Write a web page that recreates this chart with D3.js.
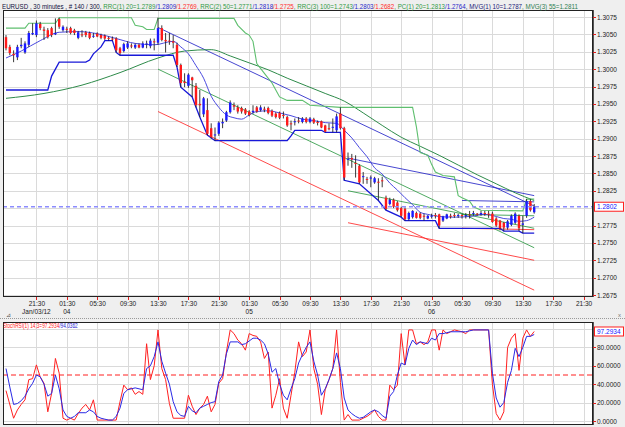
<!DOCTYPE html>
<html>
<head>
<meta charset="utf-8">
<title>EURUSD 30 minutes</title>
<style>
  body { margin: 0; background: #efefef; }
  svg { display: block; font-family: "Liberation Sans", Arial, sans-serif; }
  .axis path { display: none; }
  .axis line { stroke: #e02020; shape-rendering: crispEdges; }
  .axis text { font-size: 6.5px; fill: #222; }
  .grid { stroke: #dadada; shape-rendering: crispEdges; }
</style>
<script src="https://d3js.org/d3.v7.min.js"></script>
</head>
<body>
<script>
// ---- candles (bar 0 = Jan 03 17:30, 30 minute bars) ----
var opens = [1.3046,1.3032,1.3022,1.3017,1.3033,1.3024,1.3035,1.3050,1.3049,1.3065,
  1.3057,1.3056,1.3059,1.3050,1.3072,1.3056,1.3058,1.3059,1.3056,1.3045,
  1.3050,1.3053,1.3052,1.3047,1.3051,1.3049,1.3048,1.3045,1.3044,1.3044,
  1.3030,1.3026,1.3031,1.3034,1.3031,1.3035,1.3031,1.3036,1.3033,1.3040,
  1.3038,1.3059,1.3042,1.3041,1.3040,1.3035,1.3006,1.2982,1.2976,1.2988,
  1.2976,1.2950,1.2935,1.2941,1.2915,1.2905,1.2907,1.2922,1.2926,1.2938,
  1.2948,1.2945,1.2944,1.2942,1.2939,1.2938,1.2945,1.2941,1.2943,1.2944,
  1.2940,1.2936,1.2937,1.2934,1.2931,1.2922,1.2924,1.2926,1.2924,1.2929,
  1.2924,1.2928,1.2924,1.2925,1.2919,1.2915,1.2916,1.2912,1.2936,1.2915,
  1.2870,1.2872,1.2865,1.2861,1.2845,1.2842,1.2843,1.2837,1.2838,1.2840,
  1.2815,1.2806,1.2812,1.2808,1.2800,1.2799,1.2784,1.2787,1.2793,1.2792,
  1.2789,1.2785,1.2788,1.2790,1.2791,1.2782,1.2785,1.2789,1.2790,1.2789,
  1.2790,1.2789,1.2791,1.2792,1.2792,1.2791,1.2793,1.2792,1.2792,1.2785,
  1.2782,1.2779,1.2772,1.2776,1.2779,1.2789,1.2776,1.2789,1.2810,1.2794];
var highs = [1.3049,1.3035,1.3027,1.3035,1.3045,1.3040,1.3055,1.3066,1.3070,1.3068,
  1.3061,1.3059,1.3061,1.3073,1.3074,1.3063,1.3061,1.3061,1.3058,1.3055,
  1.3056,1.3055,1.3054,1.3052,1.3053,1.3051,1.3050,1.3047,1.3047,1.3046,
  1.3032,1.3038,1.3040,1.3037,1.3037,1.3037,1.3040,1.3041,1.3044,1.3044,
  1.3074,1.3063,1.3052,1.3052,1.3049,1.3038,1.3008,1.2994,1.2994,1.2989,
  1.2980,1.2970,1.2960,1.2958,1.2922,1.2916,1.2925,1.2929,1.2940,1.2955,
  1.2952,1.2948,1.2946,1.2944,1.2941,1.2948,1.2947,1.2948,1.2946,1.2946,
  1.2942,1.2938,1.2939,1.2939,1.2933,1.2926,1.2929,1.2931,1.2931,1.2931,
  1.2931,1.2930,1.2926,1.2926,1.2920,1.2922,1.2929,1.2936,1.2945,1.2917,
  1.2880,1.2878,1.2876,1.2863,1.2852,1.2845,1.2847,1.2845,1.2843,1.2845,
  1.2818,1.2815,1.2814,1.2810,1.2802,1.2801,1.2795,1.2797,1.2795,1.2794,
  1.2792,1.2790,1.2792,1.2793,1.2792,1.2789,1.2792,1.2792,1.2793,1.2792,
  1.2792,1.2793,1.2796,1.2796,1.2793,1.2796,1.2796,1.2796,1.2795,1.2787,
  1.2783,1.2780,1.2783,1.2791,1.2794,1.2791,1.2789,1.2813,1.2813,1.2806];
var lows = [1.3027,1.3020,1.3010,1.3013,1.3030,1.3022,1.3032,1.3049,1.3046,1.3056,
  1.3042,1.3044,1.3046,1.3049,1.3058,1.3054,1.3052,1.3050,1.3049,1.3043,
  1.3046,1.3046,1.3043,1.3045,1.3046,1.3043,1.3042,1.3041,1.3041,1.3024,
  1.3020,1.3024,1.3029,1.3030,1.3029,1.3030,1.3030,1.3030,1.3030,1.3027,
  1.3035,1.3040,1.3024,1.3035,1.3030,1.3003,1.2974,1.2974,1.2973,1.2960,
  1.2945,1.2931,1.2931,1.2905,1.2900,1.2897,1.2904,1.2915,1.2924,1.2936,
  1.2941,1.2936,1.2936,1.2934,1.2932,1.2936,1.2937,1.2939,1.2938,1.2935,
  1.2931,1.2929,1.2928,1.2929,1.2917,1.2912,1.2919,1.2922,1.2922,1.2922,
  1.2922,1.2921,1.2919,1.2915,1.2909,1.2912,1.2909,1.2909,1.2913,1.2840,
  1.2861,1.2858,1.2844,1.2835,1.2835,1.2835,1.2830,1.2835,1.2811,1.2830,
  1.2797,1.2804,1.2800,1.2795,1.2787,1.2782,1.2782,1.2785,1.2785,1.2784,
  1.2782,1.2784,1.2785,1.2785,1.2771,1.2780,1.2784,1.2785,1.2786,1.2786,
  1.2785,1.2785,1.2785,1.2789,1.2789,1.2789,1.2789,1.2786,1.2779,1.2773,
  1.2768,1.2767,1.2769,1.2774,1.2777,1.2767,1.2764,1.2786,1.2795,1.2792];
var closes = [1.3030,1.3023,1.3020,1.3032,1.3035,1.3037,1.3052,1.3052,1.3066,1.3059,
  1.3055,1.3046,1.3049,1.3052,1.3061,1.3061,1.3057,1.3052,1.3052,1.3053,
  1.3049,1.3049,1.3045,1.3048,1.3047,1.3045,1.3044,1.3044,1.3043,1.3027,
  1.3023,1.3036,1.3037,1.3033,1.3035,1.3031,1.3037,1.3037,1.3041,1.3039,
  1.3059,1.3042,1.3040,1.3040,1.3038,1.3006,1.2980,1.2980,1.2992,1.2984,
  1.2948,1.2948,1.2958,1.2907,1.2902,1.2906,1.2923,1.2924,1.2938,1.2952,
  1.2946,1.2939,1.2939,1.2936,1.2934,1.2940,1.2939,1.2945,1.2942,1.2937,
  1.2933,1.2931,1.2930,1.2933,1.2919,1.2921,1.2925,1.2925,1.2929,1.2924,
  1.2929,1.2923,1.2923,1.2916,1.2910,1.2914,1.2917,1.2932,1.2915,1.2844,
  1.2871,1.2870,1.2864,1.2837,1.2846,1.2841,1.2844,1.2843,1.2837,1.2839,
  1.2799,1.2812,1.2802,1.2797,1.2789,1.2784,1.2793,1.2796,1.2786,1.2786,
  1.2788,1.2789,1.2789,1.2789,1.2775,1.2788,1.2791,1.2788,1.2789,1.2790,
  1.2789,1.2790,1.2790,1.2793,1.2791,1.2793,1.2792,1.2791,1.2780,1.2775,
  1.2771,1.2772,1.2781,1.2789,1.2792,1.2771,1.2778,1.2810,1.2797,1.2802];

// ---- overlays, [bar, price] ----
var pcUpper = [[0,1.3059],[5,1.3059],[6,1.3066],[13,1.3066],[14,1.3074],[33,1.3074],[34,1.3063],
  [36,1.3061],[37,1.3057],[39,1.3057],[40,1.3073],[60,1.3073],[61,1.3063],[63,1.3052],[64,1.3049],
  [65,1.3040],[66,1.3008],[68,1.2994],[70,1.2980],[71,1.2970],[72,1.2960],[74,1.2955],[78,1.2955],
  [80,1.2948],[88,1.2945],[107,1.2945],[108,1.2917],[109,1.2880],[111,1.2876],[112,1.2863],
  [113,1.2852],[115,1.2847],[118,1.2845],[119,1.2818],[120,1.2815],[122,1.2810],[123,1.2802],
  [125,1.2797],[136,1.2796],[137,1.2813],[139,1.2813]];
var pcLower = [[0,1.2970],[11,1.2970],[12,1.2990],[14,1.3010],[21,1.3010],[22,1.3013],[23,1.3022],
  [25,1.3032],[26,1.3041],[28,1.3041],[29,1.3024],[30,1.3020],[44,1.3020],[45,1.3003],[46,1.2974],
  [49,1.2960],[50,1.2945],[51,1.2931],[53,1.2905],[55,1.2897],[74,1.2897],[75,1.2904],[76,1.2912],
  [83,1.2912],[84,1.2909],[88,1.2909],[89,1.2840],[93,1.2835],[98,1.2811],[100,1.2797],[104,1.2787],
  [105,1.2782],[113,1.2782],[114,1.2771],[130,1.2771],[131,1.2767],[135,1.2767],[136,1.2764],[139,1.2764]];
var ma10 = [[0,1.3016],[4,1.3026],[9,1.3041],[14,1.3053],[19,1.3054],[24,1.3051],[29,1.3044],
  [34,1.3037],[39,1.3035],[44,1.3040],[46,1.3032],[48,1.3022],[50,1.3005],[52,1.2987],[54,1.2961],
  [56,1.2945],[58,1.2934],[60,1.2930],[62,1.2928],[64,1.2934],[66,1.2939],[69,1.2940],[72,1.2937],
  [75,1.2933],[78,1.2928],[81,1.2926],[84,1.2923],[87,1.2922],[89,1.2912],[91,1.2901],[93,1.2887],
  [95,1.2874],[97,1.2858],[99,1.2849],[101,1.2836],[103,1.2826],[105,1.2815],[107,1.2805],
  [109,1.2794],[111,1.2791],[114,1.2788],[118,1.2787],[122,1.2788],[126,1.2791],[129,1.2788],
  [131,1.2785],[133,1.2784],[135,1.2781],[137,1.2782],[139,1.2787]];
var ma55 = [[0,1.2958],[10,1.2965],[20,1.2977],[30,1.2995],[40,1.3016],[47,1.3026],[54,1.3028],
  [59,1.3019],[64,1.3009],[69,1.2999],[74,1.2987],[79,1.2976],[84,1.2965],[89,1.2954],[94,1.2937],
  [99,1.2919],[104,1.2902],[109,1.2889],[114,1.2876],[119,1.2862],[124,1.2848],[129,1.2835],
  [134,1.2822],[139,1.2811]];

// regression channels RRC(1) 20, RRC(2) 50, RRC(3) 100
var rrcFrom = [120, 90, 40];
var rrcTo = [139, 139, 139];
var rrcMidStart = [1.2791, 1.2825, 1.3000];
var rrcMidEnd = [1.2789, 1.2771, 1.2743];
var rrcUpStart = [1.2811, 1.2872, 1.3060];
var rrcUpEnd = [1.2809, 1.2818, 1.2803];
var rrcLoStart = [1.2771, 1.2779, 1.2939];
var rrcLoEnd = [1.2769, 1.2725, 1.2682];

var lastPrice = 1.2802;

// ---- StochRSI(1) 14;3, [bar, value] ----
var stochK = [[0,33],[2,3],[3,12],[4,18],[5,23],[6,45],[7,46],[8,61],[9,48],[10,41],[11,10],[12,30],
  [13,68],[14,52],[15,3],[16,1],[17,3],[18,1],[19,8],[20,14],[21,18],[22,12],[23,23],[24,1],[29,1],
  [30,21],[31,39],[32,34],[33,36],[34,29],[35,32],[36,29],[37,84],[38,45],[39,60],[40,99],[41,57],
  [42,45],[43,19],[44,3],[47,3],[48,28],[49,16],[50,7],[51,14],[52,18],[53,27],[54,10],[55,18],
  [56,41],[57,46],[58,75],[59,99],[60,95],[61,88],[62,84],[63,77],[64,95],[65,93],[66,92],[67,86],
  [68,68],[69,75],[70,14],[71,28],[72,46],[73,14],[74,3],[75,28],[76,53],[77,86],[78,70],[79,75],
  [80,99],[81,57],[82,40],[83,7],[84,34],[85,45],[86,57],[87,99],[88,42],[89,1],[90,7],[91,1],
  [93,1],[94,3],[95,5],[96,8],[97,12],[98,5],[99,1],[100,1],[101,39],[102,34],[103,39],[104,95],
  [105,61],[106,99],[107,99],[108,84],[109,86],[110,83],[111,86],[112,99],[113,99],[114,77],
  [115,99],[116,95],[117,97],[118,99],[119,98],[120,97],[121,95],[122,99],[127,99],[128,40],
  [129,8],[130,1],[131,10],[132,80],[133,90],[134,95],[135,55],[136,90],[137,99],[138,92],[139,97.29]];
var stochD = [[0,57],[1,37],[2,18],[3,19],[4,22],[5,27],[6,35],[7,41],[8,50],[9,48],[10,40],[11,27],
  [12,30],[13,50],[14,35],[15,12],[16,5],[17,3],[18,5],[19,9],[21,9],[22,12],[23,10],[24,5],[25,3],
  [26,2],[27,1],[28,1],[29,5],[30,14],[31,30],[32,34],[33,35],[34,36],[35,35],[36,34],[37,57],
  [38,60],[39,70],[40,86],[41,65],[42,52],[43,40],[44,21],[45,10],[46,6],[47,5],[48,16],[49,11],
  [50,9],[51,14],[52,16],[53,18],[54,20],[55,21],[56,43],[57,50],[58,73],[59,86],[61,86],[62,83],
  [63,84],[64,87],[65,90],[66,90],[67,88],[68,84],[69,73],[70,53],[71,57],[72,40],[73,28],[74,23],
  [75,35],[76,46],[77,63],[78,72],[79,80],[80,86],[81,65],[82,50],[83,28],[84,35],[85,45],[86,57],
  [87,74],[88,57],[89,25],[90,12],[91,8],[92,5],[93,3],[94,4],[95,7],[96,10],[97,12],[98,10],
  [99,6],[100,3],[101,27],[102,32],[103,50],[104,63],[105,61],[106,79],[107,88],[108,83],[109,86],
  [110,85],[111,84],[112,90],[113,88],[114,95],[115,95],[116,96],[117,97],[121,97],[122,98],
  [123,99],[127,99],[128,52],[129,25],[130,15],[131,20],[132,42],[133,55],[134,79],[135,70],
  [136,80],[137,92],[138,92],[139,94.04]];
var stochLast = [97.2934, 94.0362];

// ---- axis labels ----
var tickBars = [8,16,24,32,40,48,56,64,72,80,88,96,104,112,120,128,136,144,152];
var tickTimes = ['21:30','01:30','05:30','09:30','13:30','17:30','21:30','01:30','05:30','09:30',
  '13:30','17:30','21:30','01:30','05:30','09:30','13:30','17:30','21:30'];
var tickDates = ['Jan/03/12','04','','','','','','05','','','','','','06','','','','',''];
var priceTicks = [1.3075,1.3050,1.3025,1.3000,1.2975,1.2950,1.2925,1.2900,1.2875,1.2850,
  1.2825,1.2800,1.2775,1.2750,1.2725,1.2700,1.2675];
var stochTicks = [0,20,40,60,80];
var stochGrid = [0,20,40,60,80,100];

var GREEN = '#2f9a45', BLUE = '#2626c8', RED = '#ff2a2a', NAVY = '#101040';
var header = [
  ['EURUSD , 30 minutes , # 140 / 300, ', NAVY],
  ['RRC(1) 20=1.2789', GREEN], ['/1.2809', BLUE], ['/1.2769', RED],
  [', RRC(2) 50=1.2771', GREEN], ['/1.2818', BLUE], ['/1.2725', RED],
  [', RRC(3) 100=1.2743', GREEN], ['/1.2803', BLUE], ['/1.2682', RED],
  [', PC(1) 20=1.2813', GREEN], ['/1.2764', BLUE],
  [', MVG(1) 10=1.2787', '#23237a'], [', MVG(3) 55=1.2811', '#2e7d4f']
];
var fmt4 = d3.format('.4f');
var stochHeader = [
  ['StochRSI(1) 14;3=' + fmt4(stochLast[0]), '#ff2020'],
  ['/' + fmt4(stochLast[1]), '#2020d0']
];

// ---- layout ----
var width = 625, height = 427;
var pm = {left: 3, right: 593, top: 10, bottom: 297};
var pl = {left: 3, right: 593, top: 322, bottom: 425};

var svg = d3.select('body').append('svg').attr('width', width).attr('height', height);
svg.append('rect').attr('width', width).attr('height', height).attr('fill', '#efefef');

var x = d3.scaleLinear().domain([0, 139]).range([6, 534.2]);
var y = d3.scaleLinear().domain([1.2675, 1.3075]).range([295, 17]);
var y2 = d3.scaleLinear().domain([0, 100]).range([421, 329]);

var defs = svg.append('defs');
defs.append('clipPath').attr('id', 'clipMain').append('rect')
  .attr('x', pm.left).attr('y', pm.top).attr('width', pm.right - pm.left).attr('height', pm.bottom - pm.top);
defs.append('clipPath').attr('id', 'clipLow').append('rect')
  .attr('x', pl.left).attr('y', pl.top).attr('width', pl.right - pl.left).attr('height', pl.bottom - pl.top);

// colored text squeezed to a given width (the reference font is very narrow)
function fitText(px, py, size, segs, targetW) {
  var g = svg.append('g');
  var t = g.append('text').attr('font-size', size);
  segs.forEach(function(s) { t.append('tspan').attr('fill', s[1]).text(s[0]); });
  var w = t.node().getBBox().width;
  g.attr('transform', 'translate(' + px + ',' + py + ') scale(' + (targetW / w) + ',1)');
}

// panel backgrounds
[pm, pl].forEach(function(p) {
  svg.append('rect').attr('x', p.left).attr('y', p.top)
    .attr('width', p.right - p.left).attr('height', p.bottom - p.top).attr('fill', '#fff');
});

// grids
var gGrid = svg.append('g');
function px(v) { return Math.round(v) + 0.5; }
gGrid.selectAll('.vg').data(tickBars).enter().append('line').attr('class', 'grid')
  .attr('x1', function(d) { return px(x(d)); }).attr('x2', function(d) { return px(x(d)); })
  .attr('y1', pm.top).attr('y2', pm.bottom);
gGrid.selectAll('.vg2').data(tickBars).enter().append('line').attr('class', 'grid')
  .attr('x1', function(d) { return px(x(d)); }).attr('x2', function(d) { return px(x(d)); })
  .attr('y1', pl.top).attr('y2', pl.bottom);
gGrid.selectAll('.hg').data(priceTicks).enter().append('line').attr('class', 'grid')
  .attr('x1', pm.left).attr('x2', pm.right)
  .attr('y1', function(d) { return px(y(d)); }).attr('y2', function(d) { return px(y(d)); });
gGrid.selectAll('.hg2').data(stochGrid).enter().append('line').attr('class', 'grid')
  .attr('x1', pl.left).attr('x2', pl.right)
  .attr('y1', function(d) { return px(y2(d)); }).attr('y2', function(d) { return px(y2(d)); });

// ---- main panel ----
var gMain = svg.append('g').attr('clip-path', 'url(#clipMain)');
var line = d3.line().x(function(d) { return x(d[0]); }).y(function(d) { return y(d[1]); });
var smooth = d3.line().curve(d3.curveMonotoneX).x(function(d) { return x(d[0]); }).y(function(d) { return y(d[1]); });

// regression channels
rrcFrom.forEach(function(f, k) {
  var t = rrcTo[k];
  [[rrcMidStart[k], rrcMidEnd[k], GREEN], [rrcUpStart[k], rrcUpEnd[k], BLUE], [rrcLoStart[k], rrcLoEnd[k], RED]]
    .forEach(function(c) {
      gMain.append('path').datum([[f, c[0]], [t, c[1]]]).attr('d', line)
        .attr('fill', 'none').attr('stroke', c[2]).attr('stroke-width', 1).attr('stroke-opacity', 0.85);
    });
});

gMain.append('path').datum(ma55).attr('d', smooth)
  .attr('fill', 'none').attr('stroke', '#2e8b4a').attr('stroke-width', 1);
gMain.append('path').datum(ma10).attr('d', smooth)
  .attr('fill', 'none').attr('stroke', '#4a4ae0').attr('stroke-width', 1);
gMain.append('path').datum(pcUpper).attr('d', line)
  .attr('fill', 'none').attr('stroke', '#5fbf6f').attr('stroke-width', 1.1);
gMain.append('path').datum(pcLower).attr('d', line)
  .attr('fill', 'none').attr('stroke', '#1818d8').attr('stroke-width', 1.3);

// candles
var bars = d3.range(closes.length);
gMain.selectAll('.wick').data(bars).enter().append('line')
  .attr('x1', function(i) { return x(i); }).attr('x2', function(i) { return x(i); })
  .attr('y1', function(i) { return y(highs[i]); }).attr('y2', function(i) { return y(lows[i]); })
  .attr('stroke', '#222').attr('stroke-width', 0.9);
gMain.selectAll('.body').data(bars).enter().append('rect')
  .attr('x', function(i) { return x(i) - 1.2; })
  .attr('y', function(i) { return y(Math.max(opens[i], closes[i])); })
  .attr('width', 2.4)
  .attr('height', function(i) { return Math.max(1, Math.abs(y(opens[i]) - y(closes[i]))); })
  .attr('fill', function(i) { return closes[i] >= opens[i] ? '#1a1aff' : '#ff1a1a'; });

// last price line
gMain.append('line').attr('x1', pm.left).attr('x2', pm.right)
  .attr('y1', y(lastPrice)).attr('y2', y(lastPrice))
  .attr('stroke', '#8c8cff').attr('stroke-width', 1.4).attr('stroke-dasharray', '4,3');

svg.append('rect').attr('x', pm.left + 0.5).attr('y', pm.top + 0.5)
  .attr('width', pm.right - pm.left - 1).attr('height', pm.bottom - pm.top - 1)
  .attr('fill', 'none').attr('stroke', '#222').attr('stroke-width', 1);
svg.append('line').attr('x1', pm.right).attr('x2', pm.right).attr('y1', pm.top).attr('y2', pm.bottom)
  .attr('stroke', '#222').attr('stroke-width', 1.5);

// axes (the 1.2800 label sits under the last price box)
svg.append('g').attr('class', 'axis').attr('transform', 'translate(' + pm.right + ',0)')
  .call(d3.axisRight(y)
    .tickValues(priceTicks.filter(function(p) { return Math.abs(p - lastPrice) > 0.0005; }))
    .tickSize(3).tickPadding(1).tickFormat(fmt4));
svg.append('g').attr('class', 'axis').attr('transform', 'translate(0,' + pm.bottom + ')')
  .call(d3.axisBottom(x).tickValues(tickBars).tickSize(3).tickPadding(1)
    .tickFormat(function(d, i) { return tickTimes[i]; }));
svg.append('g').selectAll('text').data(tickBars.filter(function(d, i) { return tickDates[i]; }))
  .enter().append('text')
  .attr('x', function(d) { return x(d); }).attr('y', 314)
  .attr('text-anchor', 'middle').attr('font-size', 6.5).attr('fill', '#222')
  .text(function(d) { return tickDates[tickBars.indexOf(d)]; });

// last price box
svg.append('rect').attr('x', 594.5).attr('y', y(lastPrice) - 4.5).attr('width', 29).attr('height', 9)
  .attr('fill', '#fff').attr('stroke', '#ff2020').attr('stroke-width', 1);
svg.append('text').attr('x', 597).attr('y', y(lastPrice) + 2.4)
  .attr('font-size', 6.5).attr('fill', '#2020ff').text(fmt4(lastPrice));

// header
fitText(2, 8.5, 7, header, 576);

// separator between panels
svg.append('line').attr('x1', 0).attr('x2', width).attr('y1', 318.5).attr('y2', 318.5)
  .attr('stroke', '#9a9a9a').attr('stroke-dasharray', '1,1');
svg.append('text').attr('x', 618).attr('y', 317).attr('font-size', 6).attr('fill', '#777').text('x');
svg.append('text').attr('x', 6).attr('y', 317).attr('font-size', 6).attr('fill', '#555').text('\u22bf');

// ---- StochRSI panel ----
var gLow = svg.append('g').attr('clip-path', 'url(#clipLow)');
var line2 = d3.line().x(function(d) { return x(d[0]); }).y(function(d) { return y2(d[1]); });
gLow.append('line').attr('x1', pl.left).attr('x2', pl.right).attr('y1', y2(50)).attr('y2', y2(50))
  .attr('stroke', '#ff2020').attr('stroke-width', 1).attr('stroke-dasharray', '5,3');
gLow.append('path').datum(stochK).attr('d', line2)
  .attr('fill', 'none').attr('stroke', '#ff2020').attr('stroke-width', 1);
gLow.append('path').datum(stochD).attr('d', line2)
  .attr('fill', 'none').attr('stroke', '#2a2ae6').attr('stroke-width', 1);

svg.append('rect').attr('x', pl.left + 0.5).attr('y', pl.top + 0.5)
  .attr('width', pl.right - pl.left - 1).attr('height', pl.bottom - pl.top - 1)
  .attr('fill', 'none').attr('stroke', '#222').attr('stroke-width', 1);
svg.append('line').attr('x1', pl.right).attr('x2', pl.right).attr('y1', pl.top).attr('y2', pl.bottom)
  .attr('stroke', '#222').attr('stroke-width', 1.5);

svg.append('g').attr('class', 'axis').attr('transform', 'translate(' + pl.right + ',0)')
  .call(d3.axisRight(y2).tickValues(stochTicks).tickSize(3).tickPadding(1).tickFormat(fmt4));

svg.append('rect').attr('x', 594.5).attr('y', y2(stochLast[0]) - 4.5).attr('width', 29).attr('height', 9)
  .attr('fill', '#fff').attr('stroke', '#ff2020').attr('stroke-width', 1);
svg.append('text').attr('x', 597).attr('y', y2(stochLast[0]) + 2.4)
  .attr('font-size', 6.5).attr('fill', '#2020ff').text(fmt4(stochLast[0]));

fitText(3, 328, 7, stochHeader, 75);
</script>
</body>
</html>
